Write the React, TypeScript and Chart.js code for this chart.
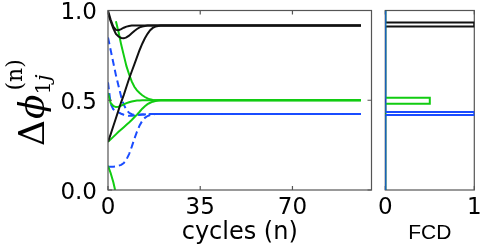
import { useEffect, useRef } from "react";
import { Chart, registerables } from "chart.js";
Chart.register(...registerables);

// ---------- data ----------
const cycleTicks = [0, 35, 70];
const phaseTicks = [0, 0.5, 1];
const fcdTicks = [0, 1];

const cycles = [0, 1, 2, 3, 4, 5, 6, 7, 8, 9, 10, 11, 12, 13, 14, 15, 16, 17, 18, 19, 20, 22, 25, 30, 50, 70, 96];

// black oscillators
const black1 = [1.0, 0.95, 0.91, 0.892, 0.89, 0.896, 0.904, 0.91, 0.914, 0.916, 0.917, 0.917, 0.917, 0.917, 0.917, 0.917, 0.917, 0.917, 0.917, 0.917, 0.917, 0.917, 0.917, 0.917, 0.917, 0.917, 0.917];
const black2 = [0.985, 0.94, 0.9, 0.87, 0.855, 0.847, 0.845, 0.85, 0.86, 0.873, 0.886, 0.897, 0.906, 0.911, 0.914, 0.916, 0.917, 0.917, 0.917, 0.917, 0.917, 0.917, 0.917, 0.917, 0.917, 0.917, 0.917];
const black3 = [0.268, 0.31, 0.355, 0.4, 0.445, 0.49, 0.53, 0.575, 0.62, 0.66, 0.7, 0.74, 0.78, 0.815, 0.845, 0.87, 0.89, 0.903, 0.91, 0.914, 0.916, 0.917, 0.917, 0.917, 0.917, 0.917, 0.917];

// green oscillators (green1 wraps from 0 to 1)
const green1LowCycles = [0, 1, 2, 2.7];
const green1Low = [0.135, 0.095, 0.045, 0.0];
const green1HighCycles = [3, 4, 5, 6, 7, 8, 9, 10, 11, 12, 13, 14, 15, 16, 17, 18, 20, 25, 50, 96];
const green1High = [0.94, 0.88, 0.81, 0.75, 0.69, 0.645, 0.605, 0.575, 0.555, 0.54, 0.528, 0.518, 0.51, 0.505, 0.502, 0.5, 0.5, 0.5, 0.5, 0.5];
const green2 = [0.54, 0.485, 0.468, 0.462, 0.464, 0.47, 0.477, 0.484, 0.489, 0.493, 0.496, 0.498, 0.499, 0.5, 0.5, 0.5, 0.5, 0.5, 0.5, 0.5, 0.5, 0.5, 0.5, 0.5, 0.5, 0.5, 0.5];
const green3 = [0.268, 0.282, 0.296, 0.31, 0.324, 0.337, 0.35, 0.363, 0.376, 0.39, 0.405, 0.42, 0.436, 0.453, 0.467, 0.478, 0.486, 0.492, 0.496, 0.499, 0.5, 0.5, 0.5, 0.5, 0.5, 0.5, 0.5];

// blue oscillators
const blue1 = [0.85, 0.78, 0.71, 0.64, 0.58, 0.52, 0.475, 0.445, 0.43, 0.422, 0.419, 0.418, 0.419, 0.42, 0.421, 0.422, 0.423, 0.423, 0.423, 0.423, 0.423, 0.423, 0.423, 0.423, 0.423, 0.423, 0.423];
const blue2 = [0.6, 0.48, 0.45, 0.44, 0.432, 0.425, 0.419, 0.415, 0.413, 0.413, 0.415, 0.417, 0.419, 0.42, 0.421, 0.422, 0.423, 0.423, 0.423, 0.423, 0.423, 0.423, 0.423, 0.423, 0.423, 0.423, 0.423];
const blue3 = [0.13, 0.13, 0.13, 0.132, 0.135, 0.14, 0.15, 0.17, 0.2, 0.24, 0.285, 0.325, 0.36, 0.385, 0.402, 0.412, 0.418, 0.421, 0.423, 0.423, 0.423, 0.423, 0.423, 0.423, 0.423, 0.423, 0.423];

// FCD histogram (bin edges and heights)
const fcdBlackBin = [0.911, 0.933];
const fcdBlackValue = 1;
const fcdGreenBin = [0.481, 0.514];
const fcdGreenValue = 0.5;
const fcdBlueBin = [0.418, 0.434];
const fcdBlueValue = 1;

// ---------- styles ----------
const BLACK = "#111111";
const GREEN = "#11cc11";
const BLUE = "#1a4cff";
const FRAME = "#555555";
const tickFont = { family: "DejaVu Sans", size: 23 };

const pts = (xs: number[], ys: number[]) => xs.map((x, i) => ({ x, y: ys[i] }));
const steps = (bin: number[], v: number) => [
  { x: 0, y: 0 },
  { x: 0, y: bin[0] },
  { x: v, y: bin[0] },
  { x: v, y: bin[1] },
  { x: 0, y: bin[1] },
  { x: 0, y: 1 },
];

const lineDs = (data: any[], color: string, dashed = false, order = 0) => ({
  data,
  order,
  showLine: true,
  borderColor: color,
  backgroundColor: color,
  borderWidth: 2,
  pointRadius: 0,
  borderDash: dashed ? [7, 4] : [],
  tension: 0,
  fill: false,
});

const framePlugin = (ticksX: number[], ticksY: number[], after: boolean) => {
  const draw = (chart: any) => {
    const { ctx, chartArea: a } = chart;
    ctx.save();
    ctx.strokeStyle = FRAME;
    ctx.lineWidth = 1.2;
    ctx.strokeRect(a.left, a.top, a.right - a.left, a.bottom - a.top);
    ctx.beginPath();
    for (const v of ticksX) {
      const px = chart.scales.x.getPixelForValue(v);
      ctx.moveTo(px, a.bottom);
      ctx.lineTo(px, a.bottom - 4);
      ctx.moveTo(px, a.top);
      ctx.lineTo(px, a.top + 4);
    }
    for (const v of ticksY) {
      const py = chart.scales.y.getPixelForValue(v);
      ctx.moveTo(a.left, py);
      ctx.lineTo(a.left + 4, py);
      ctx.moveTo(a.right, py);
      ctx.lineTo(a.right - 4, py);
    }
    ctx.stroke();
    ctx.restore();
  };
  return after ? { id: "frameA", afterDatasetsDraw: draw } : { id: "frameB", beforeDatasetsDraw: draw };
};

const yTitlePlugin = {
  id: "ytitle",
  afterDraw(chart: any) {
    const ctx = chart.ctx;
    ctx.save();
    ctx.translate(44, 146);
    ctx.rotate(-Math.PI / 2);
    ctx.fillStyle = "#000";
    ctx.textAlign = "left";
    ctx.textBaseline = "alphabetic";
    ctx.font = '36px "DejaVu Serif"';
    ctx.fillText("Δ", 0, 0);
    let x = ctx.measureText("Δ").width + 1;
    ctx.font = 'italic 36px "DejaVu Serif"';
    ctx.fillText("ϕ", x, 0);
    x += ctx.measureText("ϕ").width;
    // subscript
    ctx.font = '21px "DejaVu Serif"';
    ctx.fillText("1", x, 6);
    const w1 = ctx.measureText("1").width;
    ctx.font = 'italic 21px "DejaVu Serif"';
    ctx.fillText("j", x + w1, 6);
    // superscript
    ctx.font = '22px "DejaVu Serif"';
    ctx.fillText("(n)", x + 4, -22);
    ctx.restore();
  },
};

export default function App() {
  const leftRef = useRef<HTMLCanvasElement>(null);
  const rightRef = useRef<HTMLCanvasElement>(null);

  useEffect(() => {
    const left = new Chart(leftRef.current!, {
      type: "scatter",
      data: {
        datasets: [
          lineDs(pts(cycles, black1), BLACK, false, 0),
          lineDs(pts(cycles, black2), BLACK, false, 0),
          lineDs(pts(cycles, black3), BLACK, false, 0),
          lineDs(pts(green1LowCycles, green1Low), GREEN, false, 1),
          lineDs(pts(green1HighCycles, green1High), GREEN, false, 1),
          lineDs(pts(cycles, green2), GREEN, false, 1),
          lineDs(pts(cycles, green3), GREEN, false, 1),
          lineDs(pts(cycles, blue1), BLUE, true, 2),
          lineDs(pts(cycles, blue2), BLUE, true, 2),
          lineDs(pts(cycles, blue3), BLUE, true, 2),
        ] as any,
      },
      options: {
        animation: false,
        responsive: false,
        events: [],
        layout: { padding: { left: 0, right: 6.5, top: 10.5, bottom: 0 } },
        plugins: { legend: { display: false }, tooltip: { enabled: false } },
        scales: {
          x: {
            type: "linear",
            min: 0,
            max: 100,
            grid: { display: false },
            border: { display: false },
            afterBuildTicks: (s: any) => {
              s.ticks = cycleTicks.map((v) => ({ value: v }));
            },
            ticks: { font: tickFont, color: "#000", padding: -4, maxRotation: 0, autoSkip: false },
            title: {
              display: true,
              text: "cycles (n)",
              color: "#000",
              font: { family: "DejaVu Sans", size: 24 },
              padding: { top: 0, bottom: 3 },
            },
            afterFit: (s: any) => {
              s.height = 60;
              s.paddingLeft = 0;
              s.paddingRight = 0;
            },
          },
          y: {
            type: "linear",
            min: 0,
            max: 1,
            grid: { display: false },
            border: { display: false },
            afterBuildTicks: (s: any) => {
              s.ticks = phaseTicks.map((v) => ({ value: v }));
            },
            ticks: { font: tickFont, color: "#000", padding: 3, labelOffset: 3, callback: (v: any) => Number(v).toFixed(1) },
            afterFit: (s: any) => {
              s.width = 108;
              s.paddingTop = 0;
              s.paddingBottom = 0;
            },
          },
        },
      } as any,
      plugins: [framePlugin(cycleTicks, phaseTicks, true), yTitlePlugin],
    });

    const right = new Chart(rightRef.current!, {
      type: "scatter",
      data: {
        datasets: [
          lineDs(steps(fcdBlackBin, fcdBlackValue), BLACK, false, 2),
          lineDs(steps(fcdGreenBin, fcdGreenValue), GREEN, false, 1),
          lineDs(steps(fcdBlueBin, fcdBlueValue), BLUE, false, 0),
        ] as any,
      },
      options: {
        animation: false,
        responsive: false,
        events: [],
        layout: { padding: { left: 7.3, right: 25.7, top: 10.5, bottom: 0 } },
        plugins: { legend: { display: false }, tooltip: { enabled: false } },
        scales: {
          x: {
            type: "linear",
            min: 0,
            max: 1,
            grid: { display: false },
            border: { display: false },
            afterBuildTicks: (s: any) => {
              s.ticks = fcdTicks.map((v) => ({ value: v }));
            },
            ticks: { font: tickFont, color: "#000", padding: -4, maxRotation: 0, autoSkip: false },
            title: {
              display: true,
              text: "FCD",
              color: "#000",
              font: { family: "Liberation Sans", size: 21 },
              padding: { top: 0, bottom: 4 },
            },
            afterFit: (s: any) => {
              s.height = 60;
              s.paddingLeft = 0;
              s.paddingRight = 0;
            },
          },
          y: { type: "linear", min: 0, max: 1, display: false },
        },
      } as any,
      plugins: [framePlugin(fcdTicks, [], false)],
    });

    return () => {
      left.destroy();
      right.destroy();
    };
  }, []);

  return (
    <div style={{ position: "absolute", left: 0, top: 0, width: 500, height: 250, background: "#fff" }}>
      <canvas ref={leftRef} width={378} height={250} style={{ position: "absolute", left: 0, top: 0 }} />
      <canvas ref={rightRef} width={122} height={250} style={{ position: "absolute", left: 378, top: 0 }} />
    </div>
  );
}
